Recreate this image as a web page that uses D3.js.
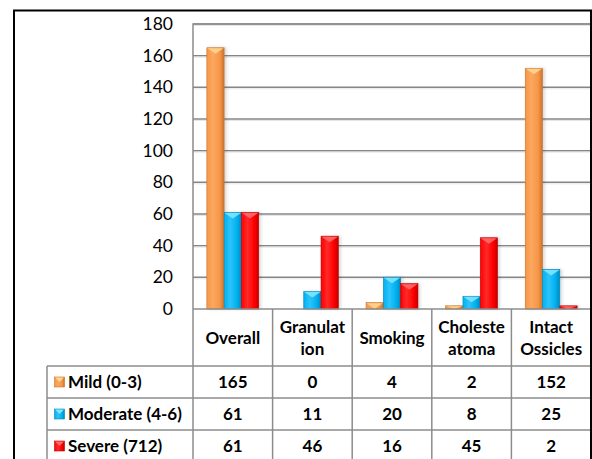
<!DOCTYPE html>
<html><head><meta charset="utf-8">
<script src="https://cdn.jsdelivr.net/npm/d3@7"></script>
<style>html,body{margin:0;padding:0;background:#fff;overflow:hidden}</style>
</head><body><svg id="c" width="592" height="459"></svg>
<script>
const categories = [["Overall"], ["Granulat","ion"], ["Smoking"], ["Choleste","atoma"], ["Intact","Ossicles"]];
const seriesNames = ["Mild (0-3)", "Moderate (4-6)", "Severe (712)"];
const mild = [165, 0, 4, 2, 152];
const moderate = [61, 11, 20, 8, 25];
const severe = [61, 46, 16, 45, 2];
const yTicks = [0, 20, 40, 60, 80, 100, 120, 140, 160, 180];
const seriesValues = [mild, moderate, severe];
const colors = [
  {base:"#F79646", light:"#FAA860", dark:"#C8722E", top:"#FDD58F"},
  {base:"#00B0F0", light:"#2CC4FA", dark:"#0088BC", top:"#7FE4FF"},
  {base:"#FF0000", light:"#FF2A2A", dark:"#C00000", top:"#FF6A6A"}
];

const svg = d3.select("#c");
const W = 592, H = 459;
const L = 193, R = 591, T = 24, B = 309;
const rowH = 32, headerBottom = 366, legendLeft = 47;
const font = "Lato, 'Open Sans', sans-serif";

const defs = svg.append("defs");
colors.forEach((c, i) => {
  const g = defs.append("linearGradient").attr("id", "g" + i).attr("x1", "0").attr("x2", "1").attr("y1", "0").attr("y2", "0");
  g.append("stop").attr("offset", "0").attr("stop-color", c.base);
  g.append("stop").attr("offset", "0.35").attr("stop-color", c.light);
  g.append("stop").attr("offset", "0.75").attr("stop-color", c.base);
  g.append("stop").attr("offset", "1").attr("stop-color", c.dark);
});
const f = defs.append("filter").attr("id", "sh").attr("x", "-50%").attr("y", "-10%").attr("width", "200%").attr("height", "120%");
f.append("feDropShadow").attr("dx", 2).attr("dy", 0).attr("stdDeviation", 1.5).attr("flood-color", "#000").attr("flood-opacity", 0.15);

svg.append("rect").attr("width", W).attr("height", H).attr("fill", "#fff");

const x = d3.scaleBand().domain(d3.range(categories.length)).range([L, R]).paddingInner(0).paddingOuter(0);
const xs = d3.scaleBand().domain(d3.range(3)).range([0, x.bandwidth()]).paddingInner(0).paddingOuter(0.8);
const y = d3.scaleLinear().domain([0, 180]).range([B, T]);

// gridlines
svg.append("g").selectAll("line").data(yTicks.filter(t => t > 0)).join("line")
  .attr("x1", L).attr("x2", R).attr("y1", d => y(d)).attr("y2", d => y(d))
  .attr("stroke", "#868686").attr("stroke-width", 1.5);
svg.append("g").selectAll("line").data(yTicks.filter(t => t > 0)).join("line")
  .attr("x1", L).attr("x2", R).attr("y1", d => y(d) + 1.5).attr("y2", d => y(d) + 1.5)
  .attr("stroke", "#E6E6E6").attr("stroke-width", 1);

// y axis labels
const yAxis = d3.axisLeft(y).tickValues(yTicks).tickSize(0).tickPadding(20);
const ya = svg.append("g").attr("transform", `translate(${L},0)`).call(yAxis);
ya.select(".domain").remove();
ya.selectAll("text").attr("font-family", font).attr("font-size", 17.5).attr("fill", "#000");

// bars
seriesValues.forEach((vals, si) => {
  const g = svg.append("g");
  vals.forEach((v, ci) => {
    if (v <= 0) return;
    const bx = x(ci) + xs(si), bw = xs.bandwidth();
    const by = y(v), bh = y(0) - y(v);
    g.append("rect").attr("x", bx).attr("y", by).attr("width", bw).attr("height", bh)
      .attr("fill", `url(#g${si})`).attr("filter", "url(#sh)")
      .attr("stroke", colors[si].dark).attr("stroke-width", 0.6);
    const th = Math.min(6, bh);
    g.append("path").attr("d", `M${bx + 0.5},${by + 0.5}L${bx + bw - 0.5},${by + 0.5}L${bx + bw / 2},${by + th}Z`)
      .attr("fill", colors[si].top).attr("opacity", 0.9);
  });
});

// plot border
const gc = "#8C8C8C";
svg.append("path").attr("d", `M${L},${B}V${T}H${R}V${B}`).attr("fill", "none").attr("stroke", gc).attr("stroke-width", 1.5);

// table lines
const tbl = svg.append("g").attr("stroke", gc).attr("stroke-width", 1.5);
const bottomY = headerBottom + rowH * 3;
tbl.append("line").attr("x1", L).attr("x2", R).attr("y1", B).attr("y2", B);
[0, 1, 2].forEach(i => {
  tbl.append("line").attr("x1", legendLeft).attr("x2", R).attr("y1", headerBottom + rowH * i).attr("y2", headerBottom + rowH * i);
});
tbl.append("line").attr("x1", legendLeft).attr("x2", legendLeft).attr("y1", headerBottom).attr("y2", bottomY + 10);
d3.range(categories.length + 1).forEach(i => {
  const xx = i < categories.length ? x(i) : R;
  tbl.append("line").attr("x1", xx).attr("x2", xx).attr("y1", B).attr("y2", bottomY + 10);
});

// header text
categories.forEach((lines, ci) => {
  const cx = x(ci) + x.bandwidth() / 2;
  const cy = (B + headerBottom) / 2;
  const t = svg.append("text").attr("x", cx).attr("text-anchor", "middle")
    .attr("font-family", font).attr("font-size", 17).attr("font-weight", "bold").attr("fill", "#000");
  lines.forEach((ln, li) => {
    t.append("tspan").attr("x", cx).attr("y", cy + 6 + (li - (lines.length - 1) / 2) * 22).text(ln);
  });
});

// rows
seriesNames.forEach((name, si) => {
  const cy = headerBottom + rowH * si + rowH / 2;
  svg.append("rect").attr("x", 54.5).attr("y", cy - 5).attr("width", 10).attr("height", 10)
    .attr("fill", `url(#g${si})`).attr("stroke", colors[si].dark).attr("stroke-width", 0.6);
  svg.append("path").attr("d", `M55,${cy - 4.5}L64,${cy - 4.5}L59.5,${cy}Z`).attr("fill", colors[si].top);
  svg.append("text").attr("x", 68).attr("y", cy + 6).attr("font-family", font).attr("font-size", 17)
    .attr("font-weight", "bold").text(name);
  seriesValues[si].forEach((v, ci) => {
    svg.append("text").attr("x", x(ci) + x.bandwidth() / 2).attr("y", cy + 6).attr("text-anchor", "middle")
      .attr("font-family", font).attr("font-size", 17).attr("font-weight", "bold").text(v);
  });
});

// outer border
svg.append("rect").attr("x", 14).attr("y", 10.5).attr("width", 577).attr("height", 470)
  .attr("fill", "none").attr("stroke", "#000").attr("stroke-width", 2);
</script></body></html>
